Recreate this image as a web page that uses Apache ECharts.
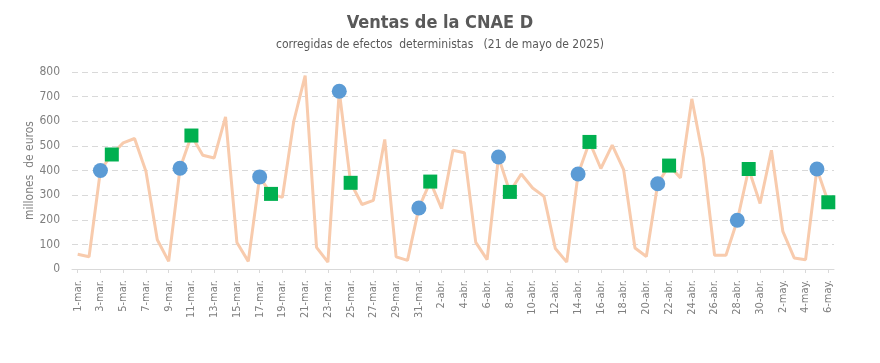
<!DOCTYPE html>
<html><head><meta charset="utf-8">
<script src="https://cdn.jsdelivr.net/npm/echarts@6/dist/echarts.min.js"></script>
<style>html,body{margin:0;padding:0;background:#fff}#c{width:880px;height:363px}</style>
</head><body><div id="c"></div>
<script>
const categories = (function(){
  const out=[];
  for(let d=1; d<=31; d++) out.push(d+'-mar.');
  for(let d=1; d<=30; d++) out.push(d+'-abr.');
  for(let d=1; d<=6; d++) out.push(d+'-may.');
  return out;
})();
const ventas = [60,50,400,465,512,530,397,119,31,409,542,462,451,618,108,31,374,305,291,600,785,
  88,28,722,350,262,279,526,49,35,248,355,245,482,472,108,38,455,313,386,329,295,83,28,386,516,
  408,503,404,85,51,346,420,370,691,451,56,56,198,406,266,482,153,45,38,406,271];
const lunesIdx = [2,9,16,23,30,37,44,51,58,65];
const martesIdx = [3,10,17,24,31,38,45,52,59,66];
const lunes = ventas.map((v,i)=> lunesIdx.includes(i) ? v : null);
const martes = ventas.map((v,i)=> martesIdx.includes(i) ? v : null);
const font = "'Liberation Sans Narrow','DejaVu Sans Condensed',Arial,sans-serif";
const chart = echarts.init(document.getElementById('c'));
chart.setOption({
  animation:false,
  title:{text:'Ventas de la CNAE D', subtext:'corregidas de efectos  deterministas   (21 de mayo de 2025)',
    left:'center', top:9, itemGap:7,
    textStyle:{fontFamily:font, fontSize:18, fontWeight:'bold', color:'#595959'},
    subtextStyle:{fontFamily:font, fontSize:12, color:'#595959'}},
  grid:{left:72, right:46, top:72, bottom:94},
  xAxis:{type:'category', data:categories, boundaryGap:true,
    axisLine:{lineStyle:{color:'#d9d9d9'}},
    axisTick:{show:true, interval:1, alignWithLabel:true, length:4, lineStyle:{color:'#d9d9d9'}},
    axisLabel:{interval:1, rotate:90, fontFamily:font, fontSize:11, color:'#7f7f7f', margin:11}},
  yAxis:{type:'value', min:0, max:800, interval:100,
    name:'millones  de euros', nameLocation:'middle', nameGap:36, nameMoveOverlap:false,
    nameTextStyle:{fontFamily:font, fontSize:12, color:'#7f7f7f'},
    axisLine:{show:false}, axisTick:{show:false},
    axisLabel:{fontFamily:font, fontSize:12, color:'#7f7f7f', margin:12},
    splitLine:{lineStyle:{color:'#d9d9d9', type:[6,4]}}},
  series:[
    {type:'line', data:ventas, symbol:'none', lineStyle:{color:'#F8CBAD', width:3}, z:1},
    {type:'line', data:lunes, showAllSymbol:true, connectNulls:false, lineStyle:{width:0, opacity:0}, symbol:'circle', symbolSize:15,
      itemStyle:{color:'#5B9BD5'}, z:3},
    {type:'line', data:martes, showAllSymbol:true, connectNulls:false, lineStyle:{width:0, opacity:0}, symbol:'rect', symbolSize:14,
      itemStyle:{color:'#00B050'}, z:3}
  ]
});
</script></body></html>
